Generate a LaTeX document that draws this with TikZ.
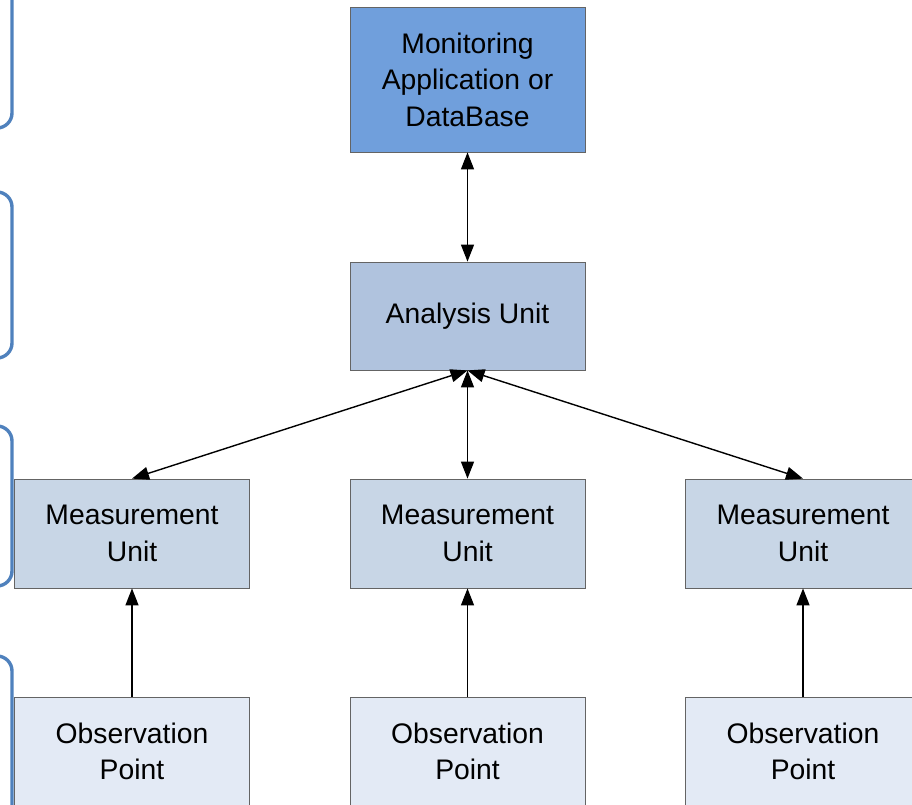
\documentclass[tikz,border=0pt]{standalone}
\usepackage{fontspec}
\setmainfont{Liberation Sans}
\usepackage{xcolor}
\usetikzlibrary{arrows.meta}
\definecolor{AzulApp}{RGB}{112,159,220}
\definecolor{AzulAnalisis}{RGB}{176,195,222}
\definecolor{AzulMedida}{RGB}{200,214,230}
\definecolor{AzulObs}{RGB}{227,234,245}
\definecolor{AzulLlave}{RGB}{79,129,189}
\definecolor{BordeCaja}{RGB}{100,100,100}

\begin{document}
\begin{tikzpicture}[x=1pt,y=-1pt,>={Triangle[length=17pt,width=13pt]},
  caja/.style={draw=BordeCaja,line width=0.8pt,rectangle,inner sep=0pt,
    minimum width=235pt,align=center,font=\fontsize{28.3}{36.5}\selectfont},
  flecha/.style={line width=1.4pt},
  llave/.style={draw=AzulLlave,line width=3.4pt,rounded corners=15pt}]
  \useasboundingbox (0,0) rectangle (912,804);

  % Llaves de nivel a la izquierda
  \draw[llave] (12,-20) -- (12,128) -- (-6,128);
  \draw[llave] (-6,192) -- (12,192) -- (12,358) -- (-6,358);
  \draw[llave] (-6,426) -- (12,426) -- (12,586) -- (-6,586);
  \draw[llave] (-6,656) -- (12,656) -- (12,830);

  % Nivel superior
  \node[caja,fill=AzulApp,minimum height=145pt] (mon) at (467.5,79.5)
    {Monitoring\\Application or\\DataBase};
  \node[caja,fill=AzulAnalisis,minimum height=108pt] (ana) at (467.5,316)
    {Analysis Unit};

  % Unidades de medida y puntos de observación
  \foreach \i/\x in {1/132,2/467.5,3/803}{
    \node[caja,fill=AzulMedida,minimum height=109pt] (meas\i) at (\x,533.5)
      {Measurement\\Unit};
    \node[caja,fill=AzulObs,minimum height=109pt] (obs\i) at (\x,751.5)
      {Observation\\Point};
    \draw[->,flecha] (obs\i) -- (meas\i);
    \draw[<->,flecha] (ana.south) -- (meas\i.north);
  }
  \draw[<->,flecha] (mon) -- (ana);
\end{tikzpicture}
\end{document}
